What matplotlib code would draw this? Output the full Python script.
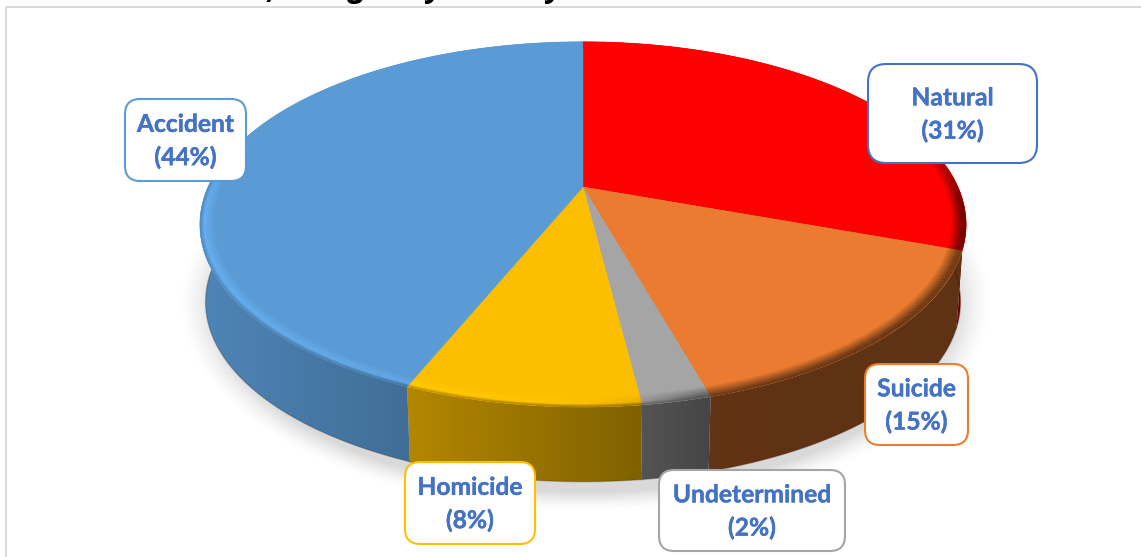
import numpy as np
import matplotlib
matplotlib.use("Agg")
import matplotlib.pyplot as plt
import matplotlib.patheffects as pe
from matplotlib.patches import PathPatch, FancyBboxPatch
from matplotlib.path import Path
from matplotlib.collections import LineCollection
from matplotlib.colors import to_rgb

categories = ["Natural", "Suicide", "Undetermined", "Homicide", "Accident"]
drawn_shares = [30.5, 15.1, 2.4, 8.2, 43.8]
label_pct = [31, 15, 2, 8, 44]
colors = ["#ff0000", "#ea7b30", "#a5a5a5", "#fcbf00", "#5b9bd5"]
edge_colors = ["#4472c4", "#ed7d31", "#a5a5a5", "#ffc000", "#5b9bd5"]
boxes = [(868, 64, 1037, 163), (865, 364, 968, 445), (659, 470, 845, 551),
         (405, 462, 535, 544), (125, 99, 246, 181)]
title_fragments = [(",", 268), ("g", 349), ("y", 426), ("y", 546)]

W, H = 1141, 557
fig = plt.figure(figsize=(W / 100, H / 100), dpi=100)
ax = fig.add_axes([0, 0, 1, 1])
ax.axis("off")

CX, CY, A, B, K = 583.0, 187.0, 174.8, 375.0, 0.2055
DEPTH, SHRINK = 78.0, 0.985


def project(theta, r=1.0):
    u, v = r * np.sin(theta), r * np.cos(theta)
    w = 1 + K * v
    return CX + B * u / w, CY - A * v / w


def base_project(theta):
    u, v = np.sin(theta), np.cos(theta)
    w = 1 + K * v
    return CX + SHRINK * B * u / w, CY + DEPTH - SHRINK * A * v / w


def wall_mult(x):
    return np.interp(x, [200, 404, 640, 708, 760, 970], [0.86, 0.71, 0.51, 0.42, 0.41, 0.41])


def bevel_mult(x):
    return np.interp(x, [200, 404, 560, 640, 700, 970], [1.14, 1.08, 1.03, 0.92, 0.6, 0.42])


# soft shadow
yy, xx = np.mgrid[0:H, 0:W]
d = np.sqrt(((xx - 585) / 396.0) ** 2 + ((yy - 302) / 203.0) ** 2)
alpha = 0.15 * np.clip((1.03 - d) / 0.095, 0, 1) ** 1.5
shadow = np.zeros((H, W, 4))
shadow[..., 3] = alpha
ax.imshow(shadow, extent=(0, W, H, 0), aspect="auto", zorder=1)

edges = 2 * np.pi * np.cumsum([0] + drawn_shares) / sum(drawn_shares)

for i, c in enumerate(colors):
    base = np.array(to_rgb(c))
    th = np.linspace(edges[i], edges[i + 1], 240)
    tx, ty = project(th)
    bx, by = base_project(th)
    # the wall is a strip of small quads, so the silhouette follows the tangent
    v_list, code_list = [], []
    for j in range(len(th) - 1):
        quad = [(tx[j], ty[j]), (tx[j + 1], ty[j + 1]), (bx[j + 1], by[j + 1]), (bx[j], by[j])]
        if np.cos(th[j]) > 0.35:
            continue
        v_list += quad + [quad[0]]
        code_list += [Path.MOVETO, Path.LINETO, Path.LINETO, Path.LINETO, Path.CLOSEPOLY]
    if not v_list:
        continue
    verts = np.array(v_list)
    wall = PathPatch(Path(verts, code_list), facecolor="none", edgecolor="none", zorder=2)
    ax.add_patch(wall)
    gx = np.linspace(verts[:, 0].min(), verts[:, 0].max(), 200)
    grad = np.clip(base[None, None, :] * wall_mult(gx)[None, :, None], 0, 1)
    im = ax.imshow(grad, extent=(gx[0], gx[-1], verts[:, 1].max(), verts[:, 1].min()),
                   aspect="auto", zorder=2, interpolation="bilinear")
    im.set_clip_path(wall)
    front = np.cos(th) < 0.0
    if front.any():
        ax.plot(bx[front], by[front], color=tuple(base * 0.3), alpha=0.3, lw=1.0, zorder=2.5)

for i, c in enumerate(colors):
    base = np.array(to_rgb(c))
    th = np.linspace(edges[i], edges[i + 1], 240)
    tx, ty = project(th)
    verts = np.vstack([[CX, CY], np.column_stack([tx, ty]), [CX, CY]])
    ax.add_patch(PathPatch(Path(verts), facecolor=c, edgecolor=c, lw=0.3, zorder=3))

    # rounded rim: layered strokes blending the top colour into the wall colour
    for r in np.linspace(0.962, 0.998, 13):
        t = (r - 0.962) / (1.0 - 0.962)
        rx, ry = project(th, r)
        strength = np.clip((0.35 - np.cos(th)) / 0.45, 0, 1)
        peak = base * bevel_mult(rx)[:, None]
        wallc = base * wall_mult(rx)[:, None]
        if t < 0.72:
            col = base + (peak - base) * (t / 0.72)
        else:
            col = peak + (wallc - peak) * ((t - 0.72) / 0.28)
        col = base + (col - base) * strength[:, None]
        col = np.clip(col, 0, 1)
        pts = np.column_stack([rx, ry])
        segs = np.stack([pts[:-1], pts[1:]], axis=1)
        ax.add_collection(LineCollection(segs, colors=col[:-1], linewidths=1.1,
                                         capstyle="butt", zorder=3.5))

for name, pct, ec, (x0, y0, x1, y1) in zip(categories, label_pct, edge_colors, boxes):
    rad = 0.185 * (y1 - y0)
    ax.add_patch(FancyBboxPatch((x0 + rad, y0 + rad), x1 - x0 - 2 * rad, y1 - y0 - 2 * rad,
                                boxstyle=f"round,pad={rad},rounding_size={rad}",
                                facecolor="white", edgecolor=ec, lw=1.5, zorder=5))
    ax.text((x0 + x1) / 2, (y0 + y1) / 2 + 1, f"{name}\n({pct}%)", ha="center", va="center",
            color="#4472c4", fontsize=17.7, fontweight="bold", family="Lato",
            linespacing=1.5, zorder=6,
            path_effects=[pe.withStroke(linewidth=0.3, foreground="#4472c4")])

# chart frame
ax.plot([5.5, 5.5, W + 2], [H + 2, 6.5, 6.5], color="#d9d9d9", lw=1.4, zorder=0.5)

# clipped remains of the title
for ch, x in title_fragments:
    ax.text(x, -2.5, ch, fontsize=22, fontweight="bold", style="italic", family="Open Sans",
            color="black", va="baseline", ha="left", clip_on=True, zorder=7)

ax.set_xlim(0, W)
ax.set_ylim(H, 0)
fig.savefig("out.png", dpi=100, facecolor="white")
